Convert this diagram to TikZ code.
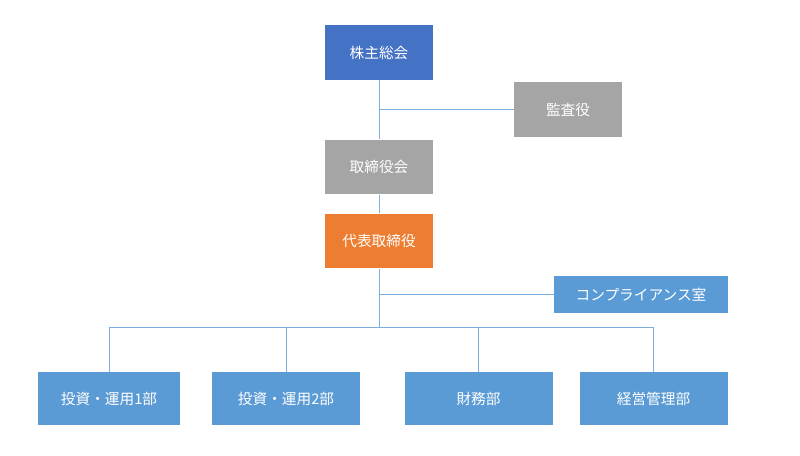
\documentclass[tikz,border=0pt]{standalone}
\usepackage{fontspec}
\newfontfamily\cjk{Noto Sans CJK JP}
\usetikzlibrary{positioning}
\definecolor{navy}{HTML}{4472C4}
\definecolor{grey}{HTML}{A5A5A5}
\definecolor{amber}{HTML}{ED7D31}
\definecolor{sky}{HTML}{5B9BD5}
\tikzset{
  post/.style={draw=none, fill=#1, text=white, font=\cjk\fontsize{11}{13}\selectfont,
    inner sep=0pt},
  unit/.style={post=sky, minimum width=111pt, minimum height=40pt},
  link/.style={draw=sky!80, line width=0.6pt}
}
\begin{document}
\begin{tikzpicture}[x=0.75pt, y=-0.75pt]
  \useasboundingbox (0,0) rectangle (800,455);
  % upper chain
  \node [post=navy, minimum width=81pt, minimum height=41pt] (gm) at (379,52.5) {株主総会};
  \node [post=grey, minimum width=81pt, minimum height=41pt] (audit) at (568,109.5) {監査役};
  \node [post=grey, minimum width=81pt, minimum height=41pt] (board) at (379,167) {取締役会};
  \node [post=amber, minimum width=81pt, minimum height=41pt] (ceo) at (379,241) {代表取締役};
  \node [post=sky, minimum width=130pt, minimum height=28pt] (comp) at (641,294.5) {コンプライアンス室};
  % departments
  \node [unit, minimum width=106pt] (inv1) at (109,398.5) {投資・運用1部};
  \node [unit] (inv2) at (286,398.5) {投資・運用2部};
  \node [unit] (fin) at (478.5,398.5) {財務部};
  \node [unit] (mgmt) at (653.5,398.5) {経営管理部};
  %
  \coordinate (j1) at (gm.south |- audit.west);
  \coordinate (j2) at (ceo.south |- comp.west);
  \coordinate (j3) at (379,327);
  \draw [link] (gm.south) -- (board.north);
  \draw [link] (j1) -- (audit.west);
  \draw [link] (board.south) -- (ceo.north);
  \draw [link] (ceo.south) -- (j3);
  \draw [link] (j2) -- (comp.west);
  \draw [link] (inv1.north) -- (inv1.north |- j3) -- (mgmt.north |- j3) -- (mgmt.north);
  \foreach \d in {inv2,fin}
    \draw [link] (\d.north |- j3) -- (\d.north);
\end{tikzpicture}
\end{document}
